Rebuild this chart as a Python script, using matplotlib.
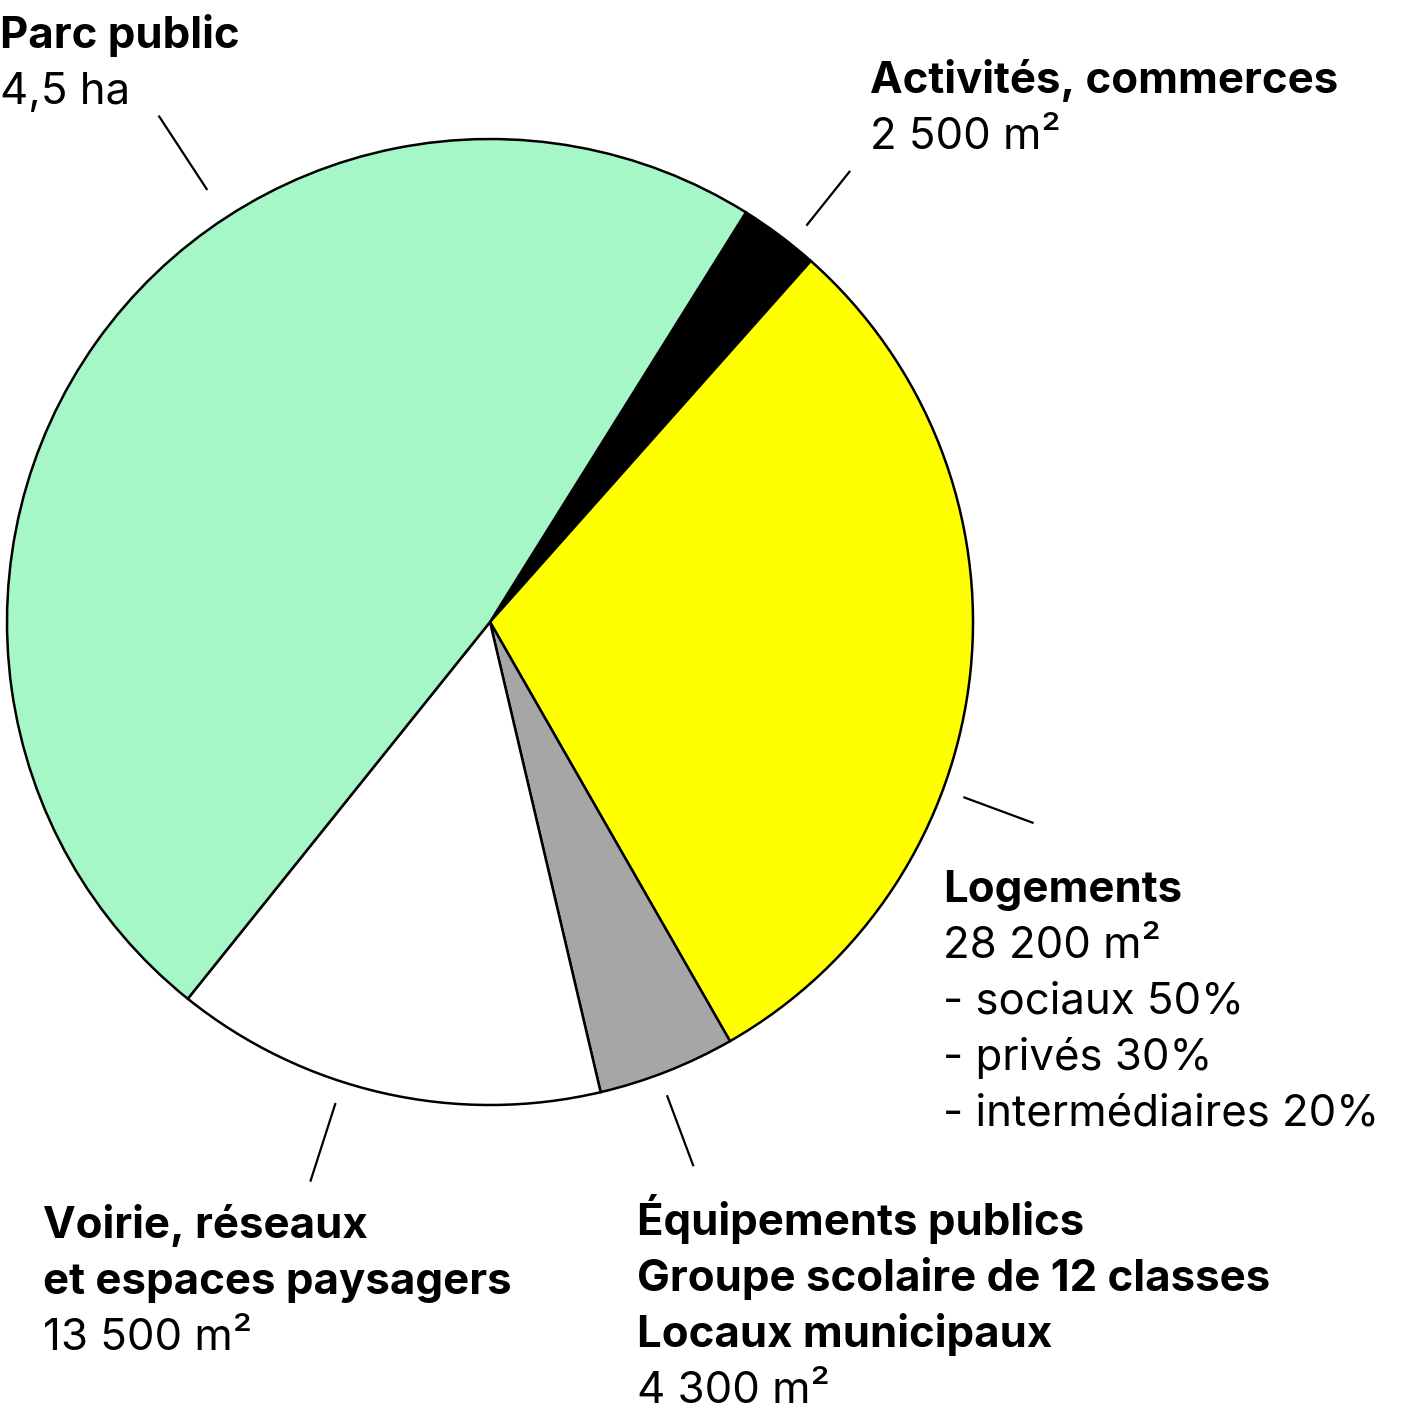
import numpy as np
import matplotlib.pyplot as plt

# surfaces in m² (parc public: 4,5 ha)
categories = ["Activités, commerces", "Logements", "Équipements publics",
              "Voirie, réseaux", "Parc public"]
surfaces = [2500, 28200, 4300, 13500, 45000]
colors = ["#000000", "#ffff00", "#a6a6a6", "#ffffff", "#a6f7c8"]

# label text: bold lines, then regular lines
titles = [
    ["Activités, commerces"],
    ["Logements"],
    ["Équipements publics", "Groupe scolaire de 12 classes", "Locaux municipaux"],
    ["Voirie, réseaux", "et espaces paysagers"],
    ["Parc public"],
]
details = [
    ["2 500 m²"],
    ["28 200 m²", "- sociaux 50%", "- privés 30%", "- intermédiaires 20%"],
    ["4 300 m²"],
    ["13 500 m²"],
    ["4,5 ha"],
]

# layout (pixels): text anchor, leader angle and radii
W, H = 1424, 1407
CX, CY, R = 490, H - 622, 483
text_pos = [(870, 93), (943, 902), (637, 1235), (43, 1238), (0, 48)]
leaders = [(51.4, 1.05, 1.195), (-20.3, 1.045, 1.20), (-69.5, 1.046, 1.203),
           (-107.8, 1.046, 1.217), (123.2, 1.069, 1.253)]
LINE = 56
FONT = "Inter"
FS = 31.5

fig = plt.figure(figsize=(W / 100, H / 100), dpi=100)
ax = fig.add_axes([0, 0, 1, 1])

ax.pie(surfaces, colors=colors, startangle=58.0, counterclock=False,
       center=(CX, CY), radius=R,
       wedgeprops={"edgecolor": "black", "linewidth": 1.8})

for ang, r0, r1 in leaders:
    a = np.deg2rad(ang)
    ax.plot([CX + R * r0 * np.cos(a), CX + R * r1 * np.cos(a)],
            [CY + R * r0 * np.sin(a), CY + R * r1 * np.sin(a)],
            color="black", linewidth=1.6, solid_capstyle="butt")

for (x, y), bold, reg in zip(text_pos, titles, details):
    for i, line in enumerate(bold + reg):
        ax.text(x, H - (y + i * LINE), line, fontsize=FS, family=FONT,
                fontweight="bold" if i < len(bold) else "normal",
                ha="left", va="baseline", color="black")

ax.set_xlim(0, W)
ax.set_ylim(0, H)
ax.set_aspect("equal")
ax.axis("off")

fig.savefig("out.png", dpi=100, facecolor="white")
